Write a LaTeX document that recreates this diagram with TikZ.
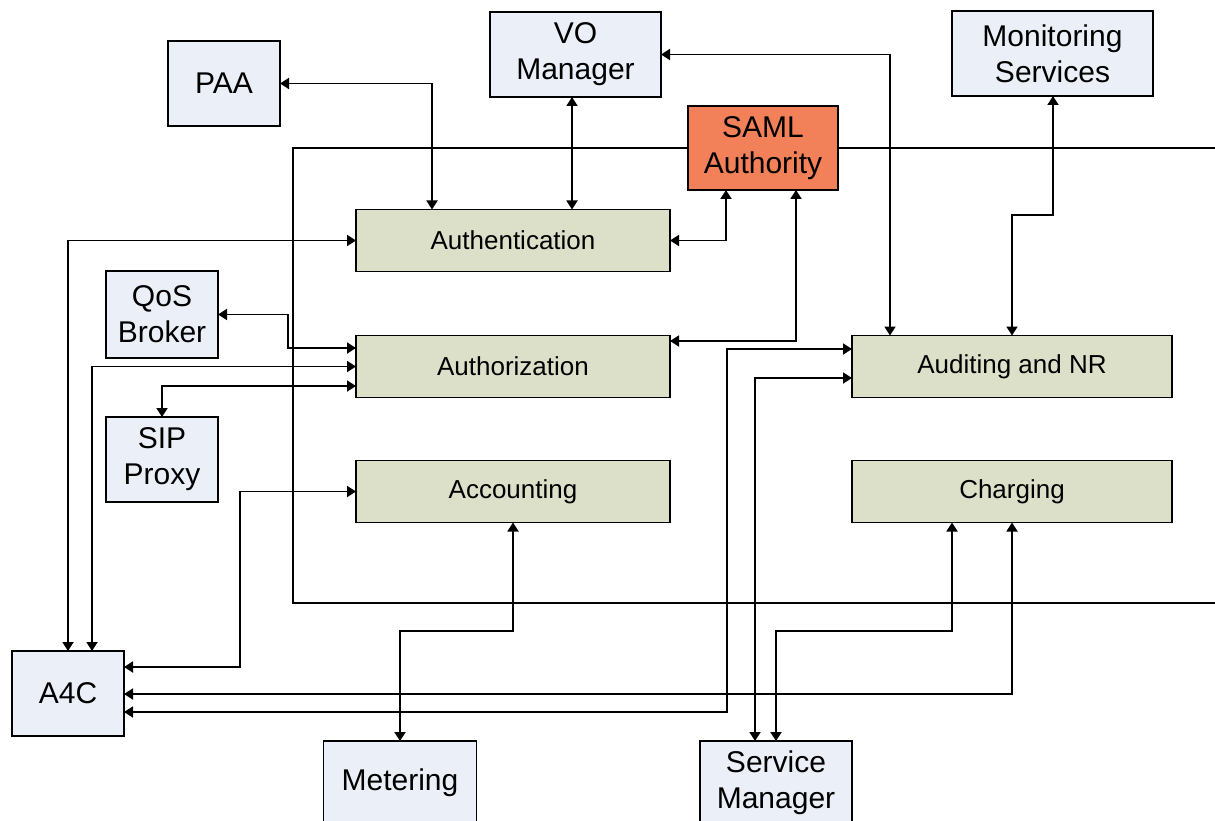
\documentclass[tikz,border=0pt]{standalone}
\usepackage{fontspec}
\setmainfont{Liberation Sans}
\usetikzlibrary{arrows.meta}
\definecolor{boxblue}{RGB}{235,240,248}
\definecolor{boxgreen}{RGB}{221,224,201}
\definecolor{samlorange}{RGB}{242,128,88}
\begin{document}
\begin{tikzpicture}[x=1pt,y=-1pt,
  base/.style={draw=black,line width=1.8pt,inner sep=0pt,outer sep=0pt,align=center},
  ext/.style={base,fill=boxblue,font=\fontsize{30}{36}\selectfont},
  func/.style={base,fill=boxgreen,font=\fontsize{26}{31}\selectfont,minimum width=314pt,minimum height=62pt},
  saml/.style={base,fill=samlorange,font=\fontsize{30}{36}\selectfont},
  bi/.style={line width=1.8pt,{Triangle[length=9pt,width=11pt]}-{Triangle[length=9pt,width=11pt]}},
  plain/.style={line width=1.8pt}]
\useasboundingbox (0,0) rectangle (1215,821);
% nodes
\node[ext,minimum width=112pt,minimum height=85pt] (paa) at (224,83.5) {PAA};
\node[ext,minimum width=171pt,minimum height=85pt] (vo) at (575.5,54.5) {VO\\Manager};
\node[saml,minimum width=150pt,minimum height=84pt] (saml) at (763,148) {SAML\\Authority};
\node[ext,minimum width=201pt,minimum height=85pt] (mon) at (1052.5,53.5) {Monitoring\\Services};
\node[func] (authn) at (513,240.5) {Authentication};
\node[func] (authz) at (513,366.5) {Authorization};
\node[func] (acct) at (513,491.5) {Accounting};
\node[func,minimum width=320pt] (audit) at (1012,366.5) {Auditing and NR};
\node[func,minimum width=320pt] (charg) at (1012,491.5) {Charging};
\node[ext,minimum width=112pt,minimum height=87pt] (qos) at (162,314.5) {QoS\\Broker};
\node[ext,minimum width=112pt,minimum height=85pt] (sip) at (162,459.5) {SIP\\Proxy};
\node[ext,minimum width=112pt,minimum height=85pt] (a4c) at (68,693.5) {A4C};
\node[ext,minimum width=153pt,minimum height=84pt] (meter) at (400,783) {Metering};
\node[ext,minimum width=152pt,minimum height=84pt] (svc) at (776,783) {Service\\Manager};
% loop through SAML Authority
\coordinate (loopA) at (1215,148);
\coordinate (loopB) at (1215,603);
\draw[plain] (saml.east) -- (loopA);
\draw[plain] (saml.west) -- (293,148) -- (293,603) -- (loopB);
% connectors
\draw[bi] (paa.east) -| (432,0 |- authn.north);
\draw[bi] (572,0 |- vo.south) -- (572,0 |- authn.north);
\draw[bi] (authn.east) -| (726,0 |- saml.south);
\draw[bi] (796,0 |- saml.south) |- (authz.east |- 0,341);
\draw[bi] (vo.east) -| (890,0 |- audit.north);
\draw[bi] (1053,0 |- mon.south) -- (1053,215) -| (1012,0 |- audit.north);
\draw[bi] (68,0 |- a4c.north) |- (authn.west);
\draw[bi] (92,0 |- a4c.north) |- (authz.west);
\draw[bi] (qos.east) -| (288,348) -- (authz.west |- 0,348);
\draw[bi] (sip.north) |- (authz.west |- 0,386);
\draw[bi] (acct.west) -| (240,667) -- (a4c.east |- 0,667);
\draw[bi] (513,0 |- acct.south) |- (400,631) -- (meter.north);
\draw[bi] (charg.south) |- (a4c.east |- 0,694);
\draw[bi] (audit.west |- 0,349) -| (727,712) -- (a4c.east |- 0,712);
\draw[bi] (audit.west |- 0,378) -| (755,0 |- svc.north);
\draw[bi] (952,0 |- charg.south) |- (776,631) -- (svc.north);
\end{tikzpicture}
\end{document}
